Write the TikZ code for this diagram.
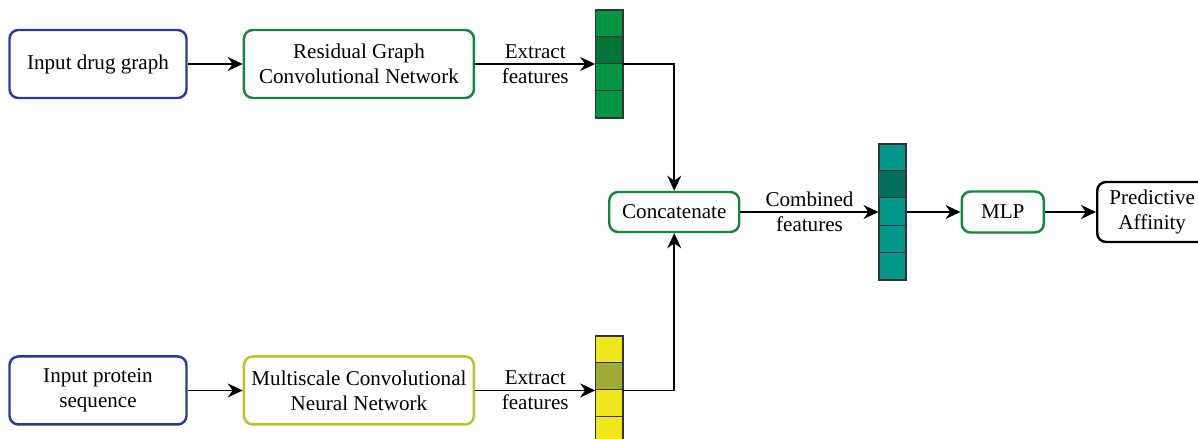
\documentclass[tikz,border=0pt]{standalone}
\usepackage{fontspec}
\setmainfont{Liberation Serif}
\usetikzlibrary{arrows.meta, positioning, calc}
\definecolor{inblue}{RGB}{40, 60, 150}
\definecolor{netgreen}{RGB}{20, 135, 60}
\definecolor{netyellow}{RGB}{185, 195, 40}
\definecolor{drugfill}{RGB}{0, 150, 65}
\definecolor{drugdark}{RGB}{0, 115, 55}
\definecolor{protfill}{RGB}{240, 230, 30}
\definecolor{protdark}{RGB}{160, 170, 55}
\definecolor{combfill}{RGB}{0, 150, 140}
\definecolor{combdark}{RGB}{0, 110, 90}

\begin{document}
\begin{tikzpicture}[
  font=\fontsize{12}{14.2}\selectfont,
  box/.style={rectangle, rounded corners=5pt, draw, line width=1.4pt, fill=white,
              align=center, inner sep=2pt},
  inbox/.style={box, draw=inblue, minimum width=3.54cm, minimum height=1.36cm},
  netbox/.style={box, minimum width=4.6cm, minimum height=1.36cm},
  vec/.style={rectangle, draw=black!80, line width=0.6pt, minimum width=0.54cm, inner sep=0pt},
  lbl/.style={align=center, inner sep=1pt},
  arr/.style={-{Stealth[length=0.3cm, width=0.28cm]}, line width=1pt}
]
  \useasboundingbox (-1.96,1.28) rectangle ++(23.96,-8.78);
  \clip (-1.96,1.28) rectangle ++(23.96,-8.78);

  % inputs and encoders
  \node[inbox] (drug) at (0,0) {Input drug graph};
  \node[netbox, draw=netgreen, right=1.1cm of drug] (rgcn) {Residual Graph\\Convolutional Network};
  \node[inbox, below=5.12cm of drug] (prot) {Input protein\\sequence};
  \node[netbox, draw=netyellow, right=1.1cm of prot] (mscnn) {Multiscale Convolutional\\Neural Network};

  % feature vectors
  \node[vec, fill=drugfill, minimum height=2.16cm, right=2.4cm of rgcn] (dvec) {};
  \node[vec, fill=protfill, minimum height=2.16cm, right=2.4cm of mscnn] (pvec) {};
  \fill[drugdark] ($(dvec.north west)+(0,-0.54)$) rectangle ++(0.54,-0.54);
  \fill[protdark] ($(pvec.north west)+(0,-0.54)$) rectangle ++(0.54,-0.54);
  \foreach \k in {1,2,3} {
    \draw[black!80, line width=0.6pt] ($(dvec.north west)+(0,-\k*0.54)$) -- ++(0.54,0);
    \draw[black!80, line width=0.6pt] ($(pvec.north west)+(0,-\k*0.54)$) -- ++(0.54,0);
  }
  \draw[black!80, line width=0.6pt] (dvec.north west) rectangle (dvec.south east);
  \draw[black!80, line width=0.6pt] (pvec.north west) rectangle (pvec.south east);

  % fusion and prediction
  \node[box, draw=netgreen, minimum width=2.6cm, minimum height=0.8cm] (concat)
    at ($(dvec.east)+(1.02,-2.96)$) {Concatenate};
  \node[vec, fill=combfill, minimum height=2.72cm, right=2.76cm of concat] (cvec) {};
  \fill[combdark] ($(cvec.north west)+(0,-0.544)$) rectangle ++(0.54,-0.544);
  \foreach \k in {1,2,3,4}
    \draw[black!80, line width=0.6pt] ($(cvec.north west)+(0,-\k*0.544)$) -- ++(0.54,0);
  \draw[black!80, line width=0.6pt] (cvec.north west) rectangle (cvec.south east);
  \node[box, draw=netgreen, minimum width=1.64cm, minimum height=0.82cm, right=1.08cm of cvec] (mlp) {MLP};
  \node[box, draw=black, minimum width=2.2cm, minimum height=1.2cm, right=1.02cm of mlp] (pred) {Predictive\\Affinity};

  % connectors
  \draw[arr] (drug) -- (rgcn);
  \draw[arr] (prot) -- (mscnn);
  \draw[arr] (rgcn) -- node[lbl] {Extract\\features} (dvec.west);
  \draw[arr] (mscnn) -- node[lbl] {Extract\\features} (pvec.west);
  \draw[arr] (dvec.east) -| (concat.north);
  \draw[arr] (pvec.east) -| (concat.south);
  \draw[arr] (concat) -- node[lbl] {Combined\\features} (cvec.west);
  \draw[arr] (cvec) -- (mlp);
  \draw[arr] (mlp) -- (pred);
\end{tikzpicture}
\end{document}
